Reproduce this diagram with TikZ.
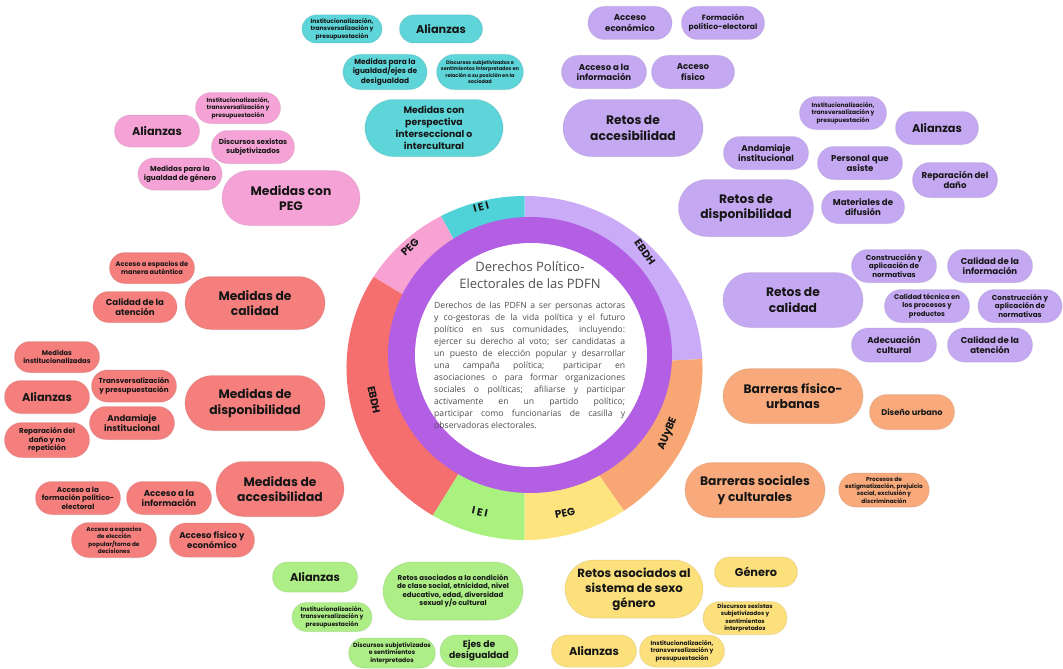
\documentclass[tikz,border=0pt]{standalone}
\usepackage{fontspec}
\setmainfont{Poppins}
\newfontfamily\ctrfont{Open Sans}
\usetikzlibrary{shapes.misc}
\definecolor{txt}{HTML}{161616}
\definecolor{ccy}{HTML}{5ED5D9}
\definecolor{clv}{HTML}{C5A8F2}
\definecolor{cpk}{HTML}{F5A3D6}
\definecolor{crd}{HTML}{F47F7D}
\definecolor{cor}{HTML}{F8AA7C}
\definecolor{cgr}{HTML}{ADEE87}
\definecolor{cyl}{HTML}{FBE07C}
\definecolor{rcy}{HTML}{4FD3D8}
\definecolor{rlv}{HTML}{C9ABF7}
\definecolor{rpk}{HTML}{F7A2D3}
\definecolor{rrd}{HTML}{F66F6F}
\definecolor{rgr}{HTML}{A9F27F}
\definecolor{ryl}{HTML}{FDE47F}
\definecolor{ror}{HTML}{F8A673}
\definecolor{rpu}{HTML}{B35FE3}
\definecolor{graytxt}{HTML}{505050}
\definecolor{bodytxt}{HTML}{4E4E4E}
\newcommand\jl[1]{\hbox to 191pt{\spaceskip=0.28em plus 3em minus 0.05em\relax #1}}
\tikzset{
  bub/.style={rounded rectangle, inner sep=0pt, align=center, text=txt},
  bfc/.style={fill=#1, draw=#1!80!black, draw opacity=0.25, line width=1pt},
  tinyt/.style={font=\fontsize{6}{7.4}\selectfont\bfseries},
  quadt/.style={font=\fontsize{5.8}{7.4}\selectfont\bfseries},
  smallt/.style={font=\fontsize{7.2}{8.6}\selectfont\bfseries},
  medt/.style={font=\fontsize{8.6}{10.2}\selectfont\bfseries},
  alit/.style={font=\fontsize{11.3}{13}\selectfont\bfseries},
  bigt/.style={font=\fontsize{12.3}{15.5}\selectfont\bfseries},
  ringt/.style={font=\fontsize{10.5}{12}\selectfont\bfseries, text=txt},
}
\begin{document}
\begin{tikzpicture}[x=1pt,y=-1pt]
\useasboundingbox (0,0) rectangle (1063,669);
\fill[white] (0,0) rectangle (1063,669);

% ---- ring ----
\begin{scope}[shift={(524.5,368)}, x=1.035pt, y=1pt]
  \fill[rlv] (0,0) -- (3:172) arc[start angle=3, end angle=90, radius=172] -- cycle;
  \fill[rcy] (0,0) -- (90:172) arc[start angle=90, end angle=118, radius=172] -- cycle;
  \fill[rpk] (0,0) -- (118:172) arc[start angle=118, end angle=148, radius=172] -- cycle;
  \fill[rrd] (0,0) -- (148:172) arc[start angle=148, end angle=239, radius=172] -- cycle;
  \fill[rgr] (0,0) -- (239:172) arc[start angle=239, end angle=270, radius=172] -- cycle;
  \fill[ryl] (0,0) -- (270:172) arc[start angle=270, end angle=304, radius=172] -- cycle;
  \fill[ror] (0,0) -- (304:172) arc[start angle=304, end angle=363, radius=172] -- cycle;
\end{scope}
\fill[rpu] (530,355) ellipse[x radius=142, y radius=138];
\fill[white] (531,355) ellipse[x radius=116, y radius=112];

\node[ringt, rotate=15] (rIEIt) at (481,207) {I\hspace{2pt}E\hspace{2pt}I};
\node[ringt, rotate=45] (rPEGt) at (410,247) {PEG};
\node[ringt, rotate=-55] (rEBDHr) at (645,252) {EBDH};
\node[ringt, rotate=-78] (rEBDHl) at (374,400) {EBDH};
\node[ringt, rotate=68] (rAUyBE) at (668,434) {AUyBE};
\node[ringt, rotate=-12] (rIEIb) at (480,512) {I\hspace{2pt}E\hspace{2pt}I};
\node[ringt, rotate=12] (rPEGb) at (565,513) {PEG};

% ---- centre text ----
\node[font=\ctrfont\fontsize{13}{17}\selectfont, text=graytxt, align=center] (title) at (530,275) {Derechos Político-\\Electorales de las PDFN};
\node[anchor=north west, inner sep=0pt, text=bodytxt,
      font=\ctrfont\fontsize{8.6}{12}\selectfont] (body) at (434,302) {\vbox{\baselineskip=12pt
\jl{Derechos de las PDFN a ser personas actoras}
\jl{y co-gestoras de la vida política y el futuro}
\jl{político en sus comunidades, incluyendo:}
\jl{ejercer su derecho al voto; ser candidatas a}
\jl{un puesto de elección popular y desarrollar}
\jl{una campaña política; participar en}
\jl{asociaciones o para formar organizaciones}
\jl{sociales o políticas; afiliarse y participar}
\jl{activamente en un partido político;}
\jl{participar como funcionarias de casilla y}
\hbox{observadoras electorales.}}};

% ---- cyan ----
\node[bub, bfc=ccy, minimum width=80pt, minimum height=28pt, tinyt] (c1) at (342,29) {Institucionalización,\\transversalización y\\presupuestación};
\node[bub, bfc=ccy, minimum width=83pt, minimum height=28pt, alit] (c2) at (441,29) {Alianzas};
\node[bub, bfc=ccy, minimum width=84pt, minimum height=35pt, font=\fontsize{7.4}{9.4}\selectfont\bfseries] (c3) at (385,72) {Medidas para la\\igualdad/ejes de\\desigualdad};
\node[bub, bfc=ccy, minimum width=86pt, minimum height=35pt, font=\fontsize{5}{6.3}\selectfont\bfseries] (c4) at (480,72) {Discursos subjetivizados e\\sentimientos interpretados en\\relación a su posición en la\\sociedad};
\node[bub, bfc=ccy, minimum width=138pt, minimum height=57pt, font=\fontsize{9.3}{12}\selectfont\bfseries] (c5) at (434,128) {Medidas con\\perspectiva\\interseccional o\\intercultural};

% ---- lavender ----
\node[bub, bfc=clv, minimum width=84pt, minimum height=33pt, medt] (l1) at (630,23) {Acceso\\económico};
\node[bub, bfc=clv, minimum width=83pt, minimum height=33pt, font=\fontsize{7.6}{9.6}\selectfont\bfseries] (l2) at (723,23) {Formación\\político-electoral};
\node[bub, bfc=clv, minimum width=85pt, minimum height=33pt, medt] (l3) at (604,72) {Acceso a la\\información};
\node[bub, bfc=clv, minimum width=83pt, minimum height=33pt, medt] (l4) at (693,72) {Acceso\\físico};
\node[bub, bfc=clv, minimum width=140pt, minimum height=57pt, bigt] (l5) at (633,128) {Retos de\\accesibilidad};
\node[bub, bfc=clv, minimum width=87pt, minimum height=33pt, tinyt] (l6) at (843,113) {Institucionalización,\\transversalización y\\presupuestación};
\node[bub, bfc=clv, minimum width=83pt, minimum height=33pt, alit] (l7) at (937,128) {Alianzas};
\node[bub, bfc=clv, minimum width=85pt, minimum height=33pt, medt] (l8) at (766,153) {Andamiaje\\institucional};
\node[bub, bfc=clv, minimum width=85pt, minimum height=33pt, medt] (l9) at (860,163) {Personal que\\asiste};
\node[bub, bfc=clv, minimum width=85pt, minimum height=35pt, medt] (l10) at (955,180) {Reparación del\\daño};
\node[bub, bfc=clv, minimum width=135pt, minimum height=57pt, bigt] (l11) at (746,208) {Retos de\\disponibilidad};
\node[bub, bfc=clv, minimum width=83pt, minimum height=33pt, medt] (l12) at (863,207) {Materiales de\\difusión};
\node[bub, bfc=clv, minimum width=140pt, minimum height=55pt, bigt] (l13) at (793,300) {Retos de\\calidad};
\node[bub, bfc=clv, minimum width=85pt, minimum height=33pt, smallt] (l14) at (894,266) {Construcción y\\aplicación de\\normativas};
\node[bub, bfc=clv, minimum width=85pt, minimum height=33pt, medt] (l15) at (990,266) {Calidad de la\\información};
\node[bub, bfc=clv, minimum width=85pt, minimum height=33pt, font=\fontsize{6.8}{8.4}\selectfont\bfseries] (l16) at (927,306) {Calidad técnica en\\los procesos y\\productos};
\node[bub, bfc=clv, minimum width=84pt, minimum height=33pt, smallt] (l17) at (1020,306) {Construcción y\\aplicación de\\normativas};
\node[bub, bfc=clv, minimum width=85pt, minimum height=34pt, medt] (l18) at (894,345) {Adecuación\\cultural};
\node[bub, bfc=clv, minimum width=85pt, minimum height=34pt, medt] (l19) at (990,345) {Calidad de la\\atención};

% ---- pink ----
\node[bub, bfc=cpk, minimum width=85pt, minimum height=31pt, tinyt] (p1) at (238,108) {Institucionalización,\\transversalización y\\presupuestación};
\node[bub, bfc=cpk, minimum width=85pt, minimum height=32pt, alit] (p2) at (157,131) {Alianzas};
\node[bub, bfc=cpk, minimum width=83pt, minimum height=33pt, smallt] (p3) at (253,147) {Discursos sexistas\\subjetivizados};
\node[bub, bfc=cpk, minimum width=84pt, minimum height=32pt, smallt] (p4) at (180,174) {Medidas para la\\igualdad de género};
\node[bub, bfc=cpk, minimum width=138pt, minimum height=55pt, bigt] (p5) at (291,198) {Medidas con\\PEG};

% ---- red ----
\node[bub, bfc=crd, minimum width=85pt, minimum height=31pt, font=\fontsize{6.6}{8}\selectfont\bfseries] (r1) at (152,268) {Acceso a espacios de\\manera auténtica};
\node[bub, bfc=crd, minimum width=84pt, minimum height=31pt, medt] (r2) at (135,307) {Calidad de la\\atención};
\node[bub, bfc=crd, minimum width=140pt, minimum height=53pt, bigt] (r3) at (255,303) {Medidas de\\calidad};
\node[bub, bfc=crd, minimum width=85pt, minimum height=31pt, font=\fontsize{6.8}{8.4}\selectfont\bfseries] (r4) at (57,357) {Medidas\\institucionalizadas};
\node[bub, bfc=crd, minimum width=85pt, minimum height=33pt, alit] (r5) at (47,397) {Alianzas};
\node[bub, bfc=crd, minimum width=85pt, minimum height=32pt, smallt] (r6) at (134,386) {Transversalización\\y presupuestación};
\node[bub, bfc=crd, minimum width=85pt, minimum height=33pt, medt] (r7) at (132,423) {Andamiaje\\institucional};
\node[bub, bfc=crd, minimum width=140pt, minimum height=55pt, bigt] (r8) at (255,403) {Medidas de\\disponibilidad};
\node[bub, bfc=crd, minimum width=85pt, minimum height=35pt, smallt] (r9) at (47,440) {Reparación del\\daño y no\\repetición};
\node[bub, bfc=crd, minimum width=128pt, minimum height=55pt, bigt] (r10) at (280,489) {Medidas de\\accesibilidad};
\node[bub, bfc=crd, minimum width=85pt, minimum height=33pt, smallt] (r11) at (78,498) {Acceso a la\\formación político-\\electoral};
\node[bub, bfc=crd, minimum width=85pt, minimum height=33pt, medt] (r12) at (169,498) {Acceso a la\\información};
\node[bub, bfc=crd, minimum width=85pt, minimum height=35pt, quadt] (r13) at (114,540) {Acceso a espacios\\de elección\\popular/toma de\\decisiones};
\node[bub, bfc=crd, minimum width=85pt, minimum height=34pt, medt] (r14) at (212,540) {Acceso físico y\\económico};

% ---- orange ----
\node[bub, bfc=cor, minimum width=140pt, minimum height=55pt, bigt] (o1) at (793,396) {Barreras físico-\\urbanas};
\node[bub, bfc=cor, minimum width=85pt, minimum height=35pt, font=\fontsize{8.2}{10}\selectfont\bfseries] (o2) at (912,412) {Diseño urbano};
\node[bub, bfc=cor, minimum width=140pt, minimum height=55pt, bigt] (o3) at (755,490) {Barreras sociales\\y culturales};
\node[bub, bfc=cor, minimum width=85pt, minimum height=34pt, quadt] (o4) at (884,490) {Procesos de\\estigmatización, prejuicio\\social, exclusión y\\discriminación};

% ---- green ----
\node[bub, bfc=cgr, minimum width=85pt, minimum height=30pt, alit] (g1) at (315,577) {Alianzas};
\node[bub, bfc=cgr, minimum width=140pt, minimum height=58pt, font=\fontsize{7}{8.6}\selectfont\bfseries] (g2) at (453,591) {Retos asociados a la condición\\de clase social, etnicidad, nivel\\educativo, edad, diversidad\\sexual y/o cultural};
\node[bub, bfc=cgr, minimum width=80pt, minimum height=29pt, tinyt] (g3) at (332,617) {Institucionalización,\\transversalización y\\presupuestación};
\node[bub, bfc=cgr, minimum width=85pt, minimum height=30pt, font=\fontsize{6.1}{7.4}\selectfont\bfseries] (g4) at (392,653) {Discursos subjetivizados\\e sentimientos\\interpretados};
\node[bub, bfc=cgr, minimum width=78pt, minimum height=32pt, font=\fontsize{9.2}{11}\selectfont\bfseries] (g5) at (479,651) {Ejes de\\desigualdad};

% ---- yellow ----
\node[bub, bfc=cyl, minimum width=138pt, minimum height=58pt, font=\fontsize{11.8}{15}\selectfont\bfseries] (y1) at (634,589) {Retos asociados al\\sistema de sexo\\género};
\node[bub, bfc=cyl, minimum width=83pt, minimum height=30pt, alit] (y2) at (756,572) {Género};
\node[bub, bfc=cyl, minimum width=84pt, minimum height=33pt, quadt] (y3) at (745,618) {Discursos sexistas\\subjetivizados y\\sentimientos\\interpretados};
\node[bub, bfc=cyl, minimum width=85pt, minimum height=32pt, alit] (y4) at (594,651) {Alianzas};
\node[bub, bfc=cyl, minimum width=85pt, minimum height=32pt, tinyt] (y5) at (682,651) {Institucionalización,\\transversalización y\\presupuestación};
\end{tikzpicture}
\end{document}
